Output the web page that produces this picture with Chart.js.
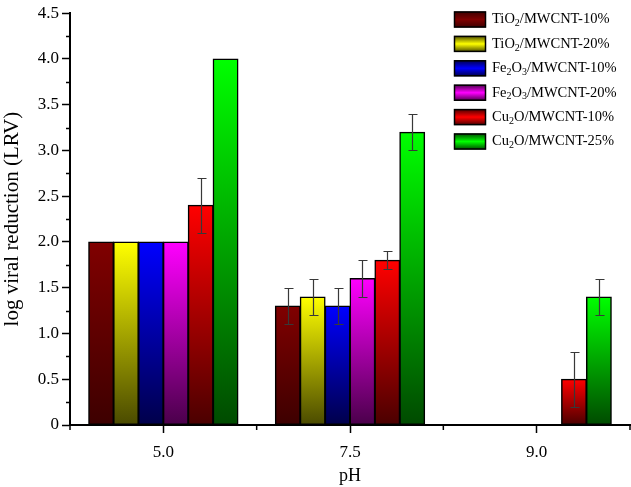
<!DOCTYPE html>
<html>
<head>
<meta charset="utf-8">
<script src="https://cdn.jsdelivr.net/npm/chart.js@4.4.0/dist/chart.umd.min.js"></script>
<style>
  body { margin: 0; background: #fff; }
  canvas { display: block; }
</style>
</head>
<body>
<canvas id="chart" width="631" height="487"></canvas>
<script>
// data
const categories = ['5.0', '7.5', '9.0'];
const seriesNames = ['TiO_2/MWCNT-10%', 'TiO_2/MWCNT-20%', 'Fe_2O_3/MWCNT-10%', 'Fe_2O_3/MWCNT-20%', 'Cu_2O/MWCNT-10%', 'Cu_2O/MWCNT-25%'];
const tio2_10 = [2.0, 1.3, null];
const tio2_20 = [2.0, 1.4, null];
const fe2o3_10 = [2.0, 1.3, null];
const fe2o3_20 = [2.0, 1.6, null];
const cu2o_10 = [2.4, 1.8, 0.5];
const cu2o_25 = [4.0, 3.2, 1.4];
const err_tio2_10 = [0, 0.2, 0];
const err_tio2_20 = [0, 0.2, 0];
const err_fe2o3_10 = [0, 0.2, 0];
const err_fe2o3_20 = [0, 0.2, 0];
const err_cu2o_10 = [0.3, 0.1, 0.3];
const err_cu2o_25 = [0, 0.2, 0.2];

const values = [tio2_10, tio2_20, fe2o3_10, fe2o3_20, cu2o_10, cu2o_25];
const errors = [err_tio2_10, err_tio2_20, err_fe2o3_10, err_fe2o3_20, err_cu2o_10, err_cu2o_25];
// top colour, bottom colour of each bar gradient
const colors = [
  ['#800000', '#3d0000'],
  ['#ffff00', '#4a4a00'],
  ['#0000ff', '#00004a'],
  ['#ff00ff', '#4a004a'],
  ['#ff0000', '#4a0000'],
  ['#00ff00', '#004a00']
];

const serif = "'Liberation Serif', 'Times New Roman', serif";

function barGradient(i) {
  return function (c) {
    if (c.type !== 'data' || c.raw == null) return colors[i][0];
    const chart = c.chart;
    const y = chart.scales.y;
    if (!y || !chart.chartArea) return colors[i][0];
    const top = y.getPixelForValue(c.raw);
    const bottom = y.getPixelForValue(0);
    const g = chart.ctx.createLinearGradient(0, top, 0, bottom);
    g.addColorStop(0, colors[i][0]);
    g.addColorStop(1, colors[i][1]);
    return g;
  };
}

// minor ticks on both axes
const minorTicks = {
  id: 'minorTicks',
  afterDraw(chart) {
    const { ctx, scales: { x, y } } = chart;
    ctx.save();
    ctx.strokeStyle = '#000';
    ctx.lineWidth = 1.5;
    ctx.beginPath();
    for (let v = 0.25; v < 4.5; v += 0.5) {
      const py = Math.round(y.getPixelForValue(v)) + 0.5;
      ctx.moveTo(x.left - 4, py);
      ctx.lineTo(x.left, py);
    }
    const n = categories.length;
    for (let k = 0; k <= n; k++) {
      const px = x.left + (x.right - x.left) * k / n;
      ctx.moveTo(px, y.bottom);
      ctx.lineTo(px, y.bottom + 5);
    }
    ctx.stroke();
    ctx.restore();
  }
};

// error bars drawn over the bars
const errorBars = {
  id: 'errorBars',
  afterDatasetsDraw(chart) {
    const { ctx, scales: { y } } = chart;
    ctx.save();
    ctx.strokeStyle = '#383838';
    ctx.lineWidth = 1.2;
    values.forEach((vals, i) => {
      const meta = chart.getDatasetMeta(i);
      vals.forEach((v, j) => {
        const e = errors[i][j];
        if (v == null || !e) return;
        const bar = meta.data[j];
        const cx = Math.round(bar.x) + 0.5;
        const t = Math.round(y.getPixelForValue(v + e)) + 0.5;
        const b = Math.round(y.getPixelForValue(v - e)) + 0.5;
        ctx.beginPath();
        ctx.moveTo(cx, t); ctx.lineTo(cx, b);
        ctx.moveTo(cx - 4, t); ctx.lineTo(cx + 5, t);
        ctx.moveTo(cx - 4, b); ctx.lineTo(cx + 5, b);
        ctx.stroke();
      });
    });
    ctx.restore();
  }
};

// legend with subscripts, top right inside the plot
function drawRich(ctx, label, x, y) {
  const parts = label.split(/_(\d)/);
  let cx = x;
  parts.forEach((p, k) => {
    if (!p) return;
    if (k % 2 === 1) {
      ctx.font = '10px ' + serif;
      ctx.fillText(p, cx, y + 4);
    } else {
      ctx.font = '14.5px ' + serif;
      ctx.fillText(p, cx, y);
    }
    cx += ctx.measureText(p).width;
  });
}

const legendBox = {
  id: 'legendBox',
  afterDraw(chart) {
    const ctx = chart.ctx;
    ctx.save();
    ctx.textBaseline = 'middle';
    ctx.fillStyle = '#000';
    seriesNames.forEach((name, i) => {
      const cy = 19.5 + i * 24.4;
      const g = ctx.createLinearGradient(0, cy - 8, 0, cy + 8);
      g.addColorStop(0, colors[i][1]);
      g.addColorStop(0.5, colors[i][0]);
      g.addColorStop(1, colors[i][1]);
      ctx.fillStyle = g;
      ctx.fillRect(454, cy - 8, 32, 16);
      ctx.strokeStyle = '#000';
      ctx.lineWidth = 1.5;
      ctx.strokeRect(454.5, cy - 7.5, 31, 15);
      ctx.fillStyle = '#000';
      drawRich(ctx, name, 492, cy);
    });
    ctx.restore();
  }
};

new Chart(document.getElementById('chart'), {
  type: 'bar',
  data: {
    labels: categories,
    datasets: values.map((vals, i) => ({
      label: seriesNames[i],
      data: vals,
      backgroundColor: barGradient(i),
      borderColor: '#000',
      borderWidth: 1.5,
      borderSkipped: false,
      inflateAmount: 0.5,
      categoryPercentage: 0.8,
      barPercentage: 1.0
    }))
  },
  options: {
    responsive: false,
    animation: false,
    devicePixelRatio: 1,
    layout: { padding: { top: 10, right: 1, left: 0, bottom: 0 } },
    plugins: {
      legend: { display: false },
      tooltip: { enabled: false }
    },
    scales: {
      x: {
        offset: true,
        grid: { display: true, drawOnChartArea: false, offset: false, tickLength: 8, color: '#000', tickWidth: 1.5 },
        border: { display: true, color: '#000', width: 2 },
        ticks: { color: '#000', font: { family: serif, size: 17 }, padding: 9 },
        title: { display: true, text: 'pH', color: '#000', font: { family: serif, size: 18 }, padding: { top: 0, bottom: 0 } },
        afterFit(scale) { scale.height = 62; }
      },
      y: {
        min: 0,
        max: 4.5,
        grid: { display: true, drawOnChartArea: false, tickLength: 8, color: '#000', tickWidth: 1.5 },
        border: { display: true, color: '#000', width: 2 },
        ticks: {
          stepSize: 0.5,
          color: '#000',
          font: { family: serif, size: 17 },
          padding: 3,
          callback: v => v === 0 ? '0' : v.toFixed(1)
        },
        title: { display: true, text: 'log viral reduction (LRV)', color: '#000', font: { family: serif, size: 21 }, padding: { top: 0, bottom: 2 } },
        afterFit(scale) { scale.width = 70; }
      }
    }
  },
  plugins: [minorTicks, errorBars, legendBox]
});
</script>
</body>
</html>
